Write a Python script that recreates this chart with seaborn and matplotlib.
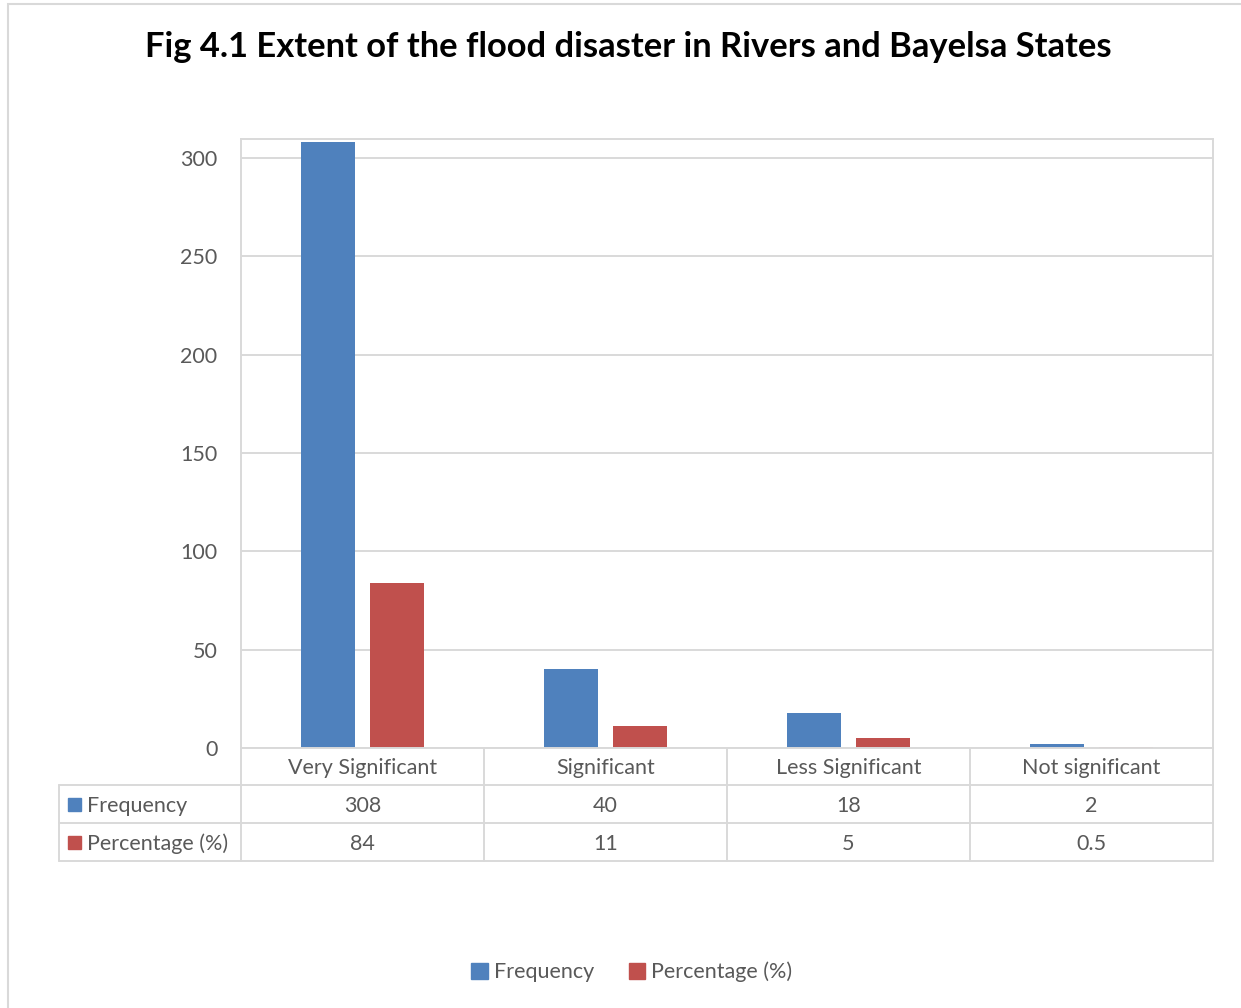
import matplotlib
matplotlib.use("Agg")
import matplotlib.pyplot as plt
import seaborn as sns
import pandas as pd
from matplotlib.patches import Rectangle
from matplotlib.lines import Line2D
from matplotlib.transforms import blended_transform_factory

# ---- data ----
categories = ["Very Significant", "Significant", "Less Significant", "Not significant"]
frequency = [308, 40, 18, 2]
percentage = [84, 11, 5, 0.5]
freq_labels = ["308", "40", "18", "2"]
pct_labels = ["84", "11", "5", "0.5"]
series = ["Frequency", "Percentage (%)"]
colors = ["#4F81BD", "#C0504D"]
yticks = [0, 50, 100, 150, 200, 250, 300]
title = "Fig 4.1 Extent of the flood disaster in Rivers and Bayelsa States"

sns.set_theme(style="white")
plt.rcParams['font.family'] = ['Lato', 'DejaVu Sans']

df = pd.DataFrame({
    "Category": categories * 2,
    "Value": frequency + percentage,
    "Series": [series[0]] * len(categories) + [series[1]] * len(categories),
})

W, H = 1241, 1008
GRID = "#D9D9D9"
TXT = "#595959"
FS = 15.5

fig = plt.figure(figsize=(W / 100, H / 100), dpi=100)
fig.patch.set_facecolor("white")
ax = fig.add_axes([241 / W, 1 - 748 / H, 972 / W, 609 / H])

sns.barplot(data=df, x="Category", y="Value", hue="Series", hue_order=series,
            palette=colors, width=0.568, gap=0.218, saturation=1, linewidth=0,
            errorbar=None, legend=False, ax=ax)

ax.set_xlim(-0.5, len(categories) - 0.5)
ax.set_ylim(0, 309.7)
ax.set_yticks(yticks)
ax.set_yticklabels([str(t) for t in yticks], fontsize=FS, color=TXT)
ax.set_xlabel("")
ax.set_ylabel("")
ax.tick_params(axis="y", length=0, pad=17)
ax.tick_params(axis="x", length=0, pad=7.5, labelsize=FS, labelcolor=TXT)
ax.yaxis.grid(True, color=GRID, lw=1.4)
ax.set_axisbelow(True)
for s in ax.spines.values():
    s.set_color(GRID)
    s.set_linewidth(1.4)

# ---- data table ----
ah = 609.0
aw = 972.0
r1, r2, r3 = -37 / ah, -75 / ah, -113 / ah
left = (59 - 241) / aw
blend = blended_transform_factory(ax.transData, ax.transAxes)
lkw = dict(color=GRID, lw=1.4, clip_on=False)
for yy in (r1, r2, r3):
    ax.add_line(Line2D([left, 1], [yy, yy], transform=ax.transAxes, **lkw))
for xb in [i - 0.5 for i in range(len(categories) + 1)]:
    ax.add_line(Line2D([xb, xb], [0, r3], transform=blend, **lkw))
ax.add_line(Line2D([left, left], [r1, r3], transform=ax.transAxes, **lkw))

off = -1.5 / ah
for i in range(len(categories)):
    ax.text(i, (r1 + r2) / 2 + off, freq_labels[i], transform=blend, ha="center",
            va="center", fontsize=FS, color=TXT)
    ax.text(i, (r2 + r3) / 2 + off, pct_labels[i], transform=blend, ha="center",
            va="center", fontsize=FS, color=TXT)

sq_x = (68 - 241) / aw
for yc, name, c in [((r1 + r2) / 2, series[0], colors[0]), ((r2 + r3) / 2, series[1], colors[1])]:
    ax.add_patch(Rectangle((sq_x, yc - 6.5 / ah), 13 / aw, 13 / ah, transform=ax.transAxes,
                           color=c, clip_on=False))
    ax.text((87 - 241) / aw, yc + off, name, transform=ax.transAxes, ha="left", va="center",
            fontsize=FS, color=TXT)

# ---- legend ----
handles = [Rectangle((0, 0), 1, 1, color=c) for c in colors]
fig.legend(handles, series, loc="center", bbox_to_anchor=(632 / W, 1 - 972 / H), ncol=2,
           frameon=False, fontsize=FS, handlelength=0.75, handleheight=0.75,
           handletextpad=0.3, columnspacing=1.6, labelcolor=TXT)

# ---- title ----
fig.text(628 / W, 1 - 47 / H, title, ha="center", va="center", fontsize=24.8,
         fontweight="bold", color="black")

# ---- outer chart border ----
fig.add_artist(Rectangle((8 / W, -0.05), 1.2, 1.05 - 3.5 / H, fill=False, ec=GRID,
                         lw=1.5, transform=fig.transFigure))

fig.savefig("out.png", dpi=100)
